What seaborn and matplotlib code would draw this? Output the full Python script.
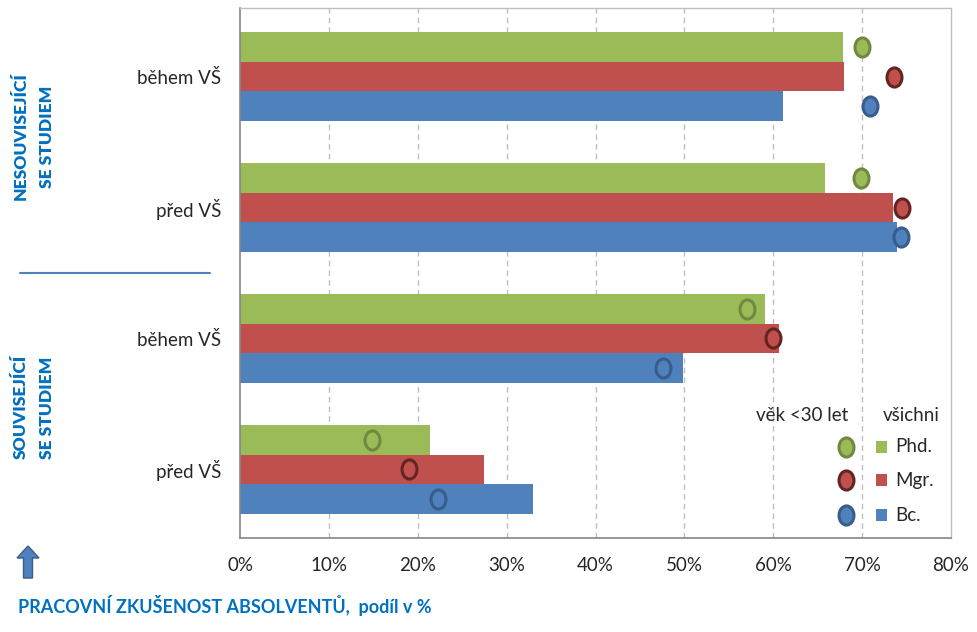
import numpy as np
import pandas as pd
import matplotlib
matplotlib.use("Agg")
import matplotlib.pyplot as plt
from matplotlib.path import Path
from matplotlib.patches import FancyArrow
from matplotlib.lines import Line2D
import seaborn as sns

# categories (top to bottom)
cat_keys = ["nes_behem", "nes_pred", "sou_behem", "sou_pred"]
cat_labels = ["během VŠ", "před VŠ", "během VŠ", "před VŠ"]
degrees = ["Phd.", "Mgr.", "Bc."]

# všichni (bars), share in %
all_phd = [67.8, 65.8, 59.1, 21.4]
all_mgr = [68.0, 73.5, 60.7, 27.4]
all_bc = [61.1, 73.9, 49.8, 33.0]

# věk <30 let (markers), share in %
young_phd = [70.0, 69.9, 57.0, 14.8]
young_mgr = [73.6, 74.5, 60.0, 19.0]
young_bc = [70.9, 74.4, 47.6, 22.3]

bar_colors = ["#9BBB59", "#C0504D", "#4F81BD"]
edge_colors = ["#71893F", "#632523", "#385D8A"]
text_blue = "#0070C0"

rows = []
for deg, vals in zip(degrees, [all_phd, all_mgr, all_bc]):
    for k, v in zip(cat_keys, vals):
        rows.append({"cat": k, "degree": deg, "value": v})
df = pd.DataFrame(rows)
young = dict(zip(degrees, [young_phd, young_mgr, young_bc]))

sns.set_style("white")
plt.rcParams["font.family"] = ["Lato", "DejaVu Sans"]

fig = plt.figure(figsize=(9.77, 6.32), dpi=100)
ax = fig.add_axes([240 / 977, 1 - 538 / 632, 711 / 977, 530 / 632])

sns.barplot(data=df, y="cat", x="value", hue="degree", order=cat_keys,
            hue_order=degrees, palette=bar_colors, orient="h", width=0.68,
            saturation=1, errorbar=None, legend=False, linewidth=0,
            ax=ax, zorder=2)

# vertical ellipse marker
ell = Path.unit_circle().transformed(matplotlib.transforms.Affine2D().scale(0.78, 1.0))

for i, (cont, deg) in enumerate(zip(ax.containers, degrees)):
    ys = [b.get_y() + b.get_height() / 2 for b in cont]
    ax.scatter(young[deg], ys, marker=ell, s=190, facecolor=bar_colors[i],
               edgecolor=edge_colors[i], linewidth=2.2, zorder=4)

fs = 13.5
ax.set_xlim(0, 80)
ax.set_xticks(np.arange(0, 81, 10))
ax.set_xticklabels([f"{t}%" for t in range(0, 81, 10)], fontsize=fs)
ax.set_yticks(range(4))
ax.set_yticklabels(cat_labels, fontsize=fs)
ax.set_yticks([-0.5, 0.5, 1.5, 2.5, 3.5], minor=True)
ax.tick_params(axis="y", which="major", length=0, pad=13.5)
ax.tick_params(axis="y", which="minor", length=6, color="#868686", width=1)
ax.tick_params(axis="x", length=6, color="#868686", width=1, pad=8, direction="out")
ax.set_xlabel("")
ax.set_ylabel("")

for x in range(10, 80, 10):
    ax.axvline(x, color="#BFBFBF", linestyle=(0, (4, 3)), linewidth=1, zorder=1)

for s in ["left", "bottom"]:
    ax.spines[s].set_color("#868686")
    ax.spines[s].set_linewidth(1.2)
for s in ["top", "right"]:
    ax.spines[s].set_color("#BFBFBF")
    ax.spines[s].set_linewidth(1)

# legend
ax.text(0.790, 0.232, "věk <30 let", transform=ax.transAxes, ha="center",
        va="center", fontsize=fs)
ax.text(0.944, 0.232, "všichni", transform=ax.transAxes, ha="center",
        va="center", fontsize=fs)
for i, (deg, yy) in enumerate(zip(degrees, [0.172, 0.109, 0.043])):
    ax.scatter([0.852], [yy], transform=ax.transAxes, marker=ell, s=190,
               facecolor=bar_colors[i], edgecolor=edge_colors[i], linewidth=2.2,
               clip_on=False, zorder=5)
    ax.scatter([0.902], [yy], transform=ax.transAxes, marker="s", s=70,
               facecolor=bar_colors[i], edgecolor="none", clip_on=False, zorder=5)
    ax.text(0.921, yy, deg, transform=ax.transAxes, ha="left", va="center",
            fontsize=fs)

# group labels on the left (each line placed separately)
group_lines = [("NESOUVISEJÍCÍ", 21, 136), ("SE STUDIEM", 47, 137),
               ("SOUVISEJÍCÍ", 21, 407), ("SE STUDIEM", 47, 408)]
for txt, px, py in group_lines:
    fig.text(px / 977, 1 - py / 632, txt, rotation=90, ha="center", va="center",
             color=text_blue, fontsize=12.5, fontweight="heavy")
fig.add_artist(Line2D([20 / 977, 210 / 977], [1 - 273 / 632, 1 - 273 / 632],
                      color="#4F81BD", linewidth=1.5))

# arrow and title at the bottom
fig.add_artist(FancyArrow(28 / 977, 1 - 578 / 632, 0, 32 / 632, width=9 / 977,
                          head_width=22 / 977, head_length=12 / 632,
                          length_includes_head=True, facecolor="#4F81BD",
                          edgecolor="#385D8A", linewidth=1,
                          transform=fig.transFigure))
fig.text(18 / 977, 1 - 606 / 632, "PRACOVNÍ ZKUŠENOST ABSOLVENTŮ,  podíl v %",
         ha="left", va="center", color=text_blue, fontsize=13,
         fontweight="bold")

fig.savefig("out.png", dpi=100)
